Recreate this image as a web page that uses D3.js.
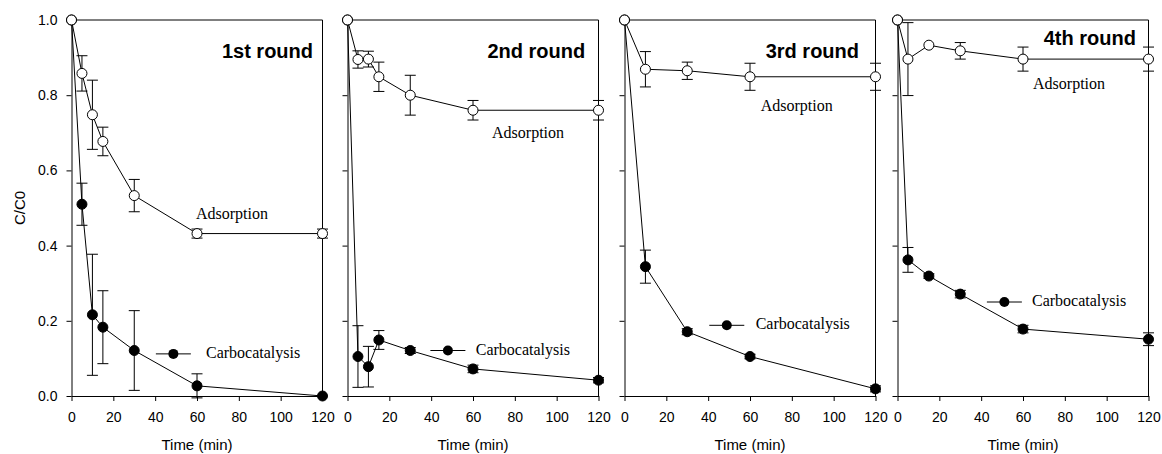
<!DOCTYPE html>
<html>
<head>
<meta charset="utf-8">
<script src="https://cdn.jsdelivr.net/npm/d3@7"></script>
<style>
  body { margin: 0; background: #fff; }
  .tick text { font-family: "Liberation Sans", Arial, sans-serif; font-size: 14px; fill: #000; }
  .axisText { font-family: "Liberation Sans", Arial, sans-serif; font-size: 15px; }
  .roundTitle { font-family: "Liberation Sans", Arial, sans-serif; font-size: 20px; font-weight: bold; }
  .seriesText { font-family: "Liberation Serif", "Times New Roman", serif; font-size: 16px; }
</style>
</head>
<body>
<div id="chart"></div>
<script>
// round titles
var rounds = ["1st round", "2nd round", "3rd round", "4th round"];

// 1st round
var times1 = [0, 5, 10, 15, 30, 60, 120];
var ads1 = [1.0, 0.858, 0.748, 0.677, 0.533, 0.432, 0.432];
var adsErr1 = [0, 0.047, 0.092, 0.038, 0.043, 0.012, 0.012];
var cat1 = [1.0, 0.510, 0.216, 0.183, 0.121, 0.027, 0.0];
var catErr1 = [0, 0.056, 0.161, 0.097, 0.106, 0.032, 0];

// 2nd round
var times2 = [0, 5, 10, 15, 30, 60, 120];
var ads2 = [1.0, 0.895, 0.896, 0.849, 0.800, 0.760, 0.760];
var adsErr2 = [0, 0.023, 0.021, 0.039, 0.053, 0.026, 0.026];
var cat2 = [1.0, 0.105, 0.078, 0.149, 0.121, 0.072, 0.042];
var catErr2 = [0, 0.082, 0.054, 0.025, 0.008, 0.010, 0.007];

// 3rd round
var times3 = [0, 10, 30, 60, 120];
var ads3 = [1.0, 0.869, 0.865, 0.849, 0.849];
var adsErr3 = [0, 0.047, 0.023, 0.036, 0.036];
var cat3 = [1.0, 0.344, 0.171, 0.105, 0.019];
var catErr3 = [0, 0.044, 0.008, 0.006, 0.008];

// 4th round
var times4 = [0, 5, 15, 30, 60, 120];
var ads4 = [1.0, 0.896, 0.933, 0.918, 0.896, 0.896];
var adsErr4 = [0, 0.097, 0, 0.022, 0.032, 0.032];
var cat4 = [1.0, 0.362, 0.319, 0.271, 0.178, 0.151];
var catErr4 = [0, 0.033, 0.006, 0.010, 0.010, 0.017];

// axis ticks
var xTicks = [0, 20, 40, 60, 80, 100, 120];
var yTicks = [0, 0.2, 0.4, 0.6, 0.8, 1.0];

var allTimes = [times1, times2, times3, times4];
var allAds = [ads1, ads2, ads3, ads4];
var allAdsErr = [adsErr1, adsErr2, adsErr3, adsErr4];
var allCat = [cat1, cat2, cat3, cat4];
var allCatErr = [catErr1, catErr2, catErr3, catErr4];

// where the in-plot labels sit, in data units (time, C/C0)
var titlePos = [[71.9, 0.899], [66.9, 0.899], [67.5, 0.899], [69.9, 0.934]];
var adsLabelPos = [[59.5, 0.471], [69.1, 0.685], [65.1, 0.758], [64.8, 0.816]];
var catKeyPos = [[48.7, 0.112], [48, 0.121], [48.9, 0.188], [51.1, 0.250]];
var catLabelT = [64.3, 61.3, 62.7, 64.3];

// svg size and panel layout
var svgWidth = 1162;
var svgHeight = 454;
var panelLeft = [71.5, 347.5, 624.5, 897.5];
var panelWidth = 251;
var plotTop = 20;
var plotBottom = 396;

var svg = d3.select("#chart")
  .append("svg")
  .attr("width", svgWidth)
  .attr("height", svgHeight);

var yScale = d3.scaleLinear()
  .domain([0, 1])
  .range([plotBottom, plotTop]);

rounds.forEach(function(title, i) {
  var xScale = d3.scaleLinear()
    .domain([0, 120])
    .range([panelLeft[i], panelLeft[i] + panelWidth]);

  var g = svg.append("g");

  // frame (top and right sides)
  g.append("path")
    .attr("d", `M${panelLeft[i]},${plotTop}H${panelLeft[i] + panelWidth}V${plotBottom}`)
    .attr("fill", "none")
    .attr("stroke", "#000");

  // axes
  var bottomAxis = d3.axisBottom(xScale)
    .tickValues(xTicks)
    .tickSize(5)
    .tickSizeOuter(0);
  var leftAxis = d3.axisLeft(yScale)
    .tickValues(yTicks)
    .tickSize(5)
    .tickPadding(9)
    .tickSizeOuter(0)
    .tickFormat(i === 0 ? d3.format(".1f") : "");

  g.append("g")
    .attr("transform", `translate(0, ${plotBottom})`)
    .call(bottomAxis)
    .call(a => a.selectAll("text").attr("dy", "0.71em").attr("y", 16));

  g.append("g")
    .attr("transform", `translate(${panelLeft[i]}, 0)`)
    .call(leftAxis);

  g.selectAll(".domain").attr("stroke", "#000");
  g.selectAll(".tick line").attr("stroke", "#000");

  // x axis label
  g.append("text")
    .attr("class", "axisText")
    .attr("x", panelLeft[i] + panelWidth / 2)
    .attr("y", 450)
    .attr("text-anchor", "middle")
    .text("Time (min)");

  var times = allTimes[i];
  var catData = times.map((t, k) => ({ t: t, v: allCat[i][k], e: allCatErr[i][k] }));
  var adsData = times.map((t, k) => ({ t: t, v: allAds[i][k], e: allAdsErr[i][k] }));

  var line = d3.line()
    .x(d => xScale(d.t))
    .y(d => yScale(d.v));

  // draw one series: error bars, line, then markers
  function drawSeries(data, fill) {
    var bars = g.append("g")
      .selectAll("g")
      .data(data.filter(d => d.e > 0))
      .enter()
      .append("g")
      .attr("stroke", "#000")
      .attr("stroke-width", 1);
    bars.append("line")
      .attr("x1", d => xScale(d.t)).attr("x2", d => xScale(d.t))
      .attr("y1", d => yScale(d.v + d.e)).attr("y2", d => yScale(d.v - d.e));
    bars.append("line")
      .attr("x1", d => xScale(d.t) - 5.5).attr("x2", d => xScale(d.t) + 5.5)
      .attr("y1", d => yScale(d.v + d.e)).attr("y2", d => yScale(d.v + d.e));
    bars.append("line")
      .attr("x1", d => xScale(d.t) - 5.5).attr("x2", d => xScale(d.t) + 5.5)
      .attr("y1", d => yScale(d.v - d.e)).attr("y2", d => yScale(d.v - d.e));

    g.append("path")
      .datum(data)
      .attr("d", line)
      .attr("fill", "none")
      .attr("stroke", "#000")
      .attr("stroke-width", 1);

    g.append("g")
      .selectAll("circle")
      .data(data)
      .enter()
      .append("circle")
      .attr("cx", d => xScale(d.t))
      .attr("cy", d => yScale(d.v))
      .attr("r", 5)
      .attr("fill", fill)
      .attr("stroke", "#000");
  }

  drawSeries(catData, "#000");
  drawSeries(adsData, "#fff");

  // round title
  g.append("text")
    .attr("class", "roundTitle")
    .attr("x", xScale(titlePos[i][0]))
    .attr("y", yScale(titlePos[i][1]))
    .text(title);

  // adsorption label
  g.append("text")
    .attr("class", "seriesText")
    .attr("x", xScale(adsLabelPos[i][0]))
    .attr("y", yScale(adsLabelPos[i][1]))
    .text("Adsorption");

  // carbocatalysis key
  var kx = xScale(catKeyPos[i][0]);
  var ky = yScale(catKeyPos[i][1]);
  g.append("line")
    .attr("x1", kx - 17.5).attr("x2", kx + 17.5)
    .attr("y1", ky).attr("y2", ky)
    .attr("stroke", "#000");
  g.append("circle")
    .attr("cx", kx).attr("cy", ky)
    .attr("r", 5)
    .attr("fill", "#000");
  g.append("text")
    .attr("class", "seriesText")
    .attr("x", xScale(catLabelT[i]))
    .attr("y", ky + 4)
    .text("Carbocatalysis");
});

// y axis label
svg.append("text")
  .attr("class", "axisText")
  .attr("transform", `translate(25, ${(plotTop + plotBottom) / 2}) rotate(-90)`)
  .attr("text-anchor", "middle")
  .text("C/C0");
</script>
</body>
</html>
